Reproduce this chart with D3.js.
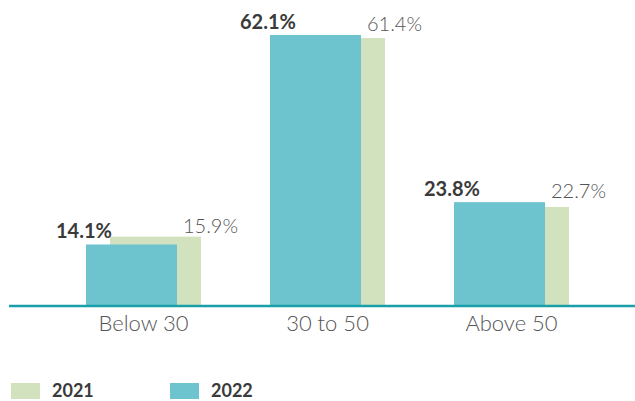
<!DOCTYPE html>
<html>
<head>
<meta charset="utf-8">
<script src="https://cdn.jsdelivr.net/npm/d3@7"></script>
<style>
  html, body { margin: 0; padding: 0; background: #fff; }
  svg { display: block; font-family: Lato, "Open Sans", sans-serif; }
</style>
</head>
<body>
<svg id="chart" width="635" height="401"></svg>
<script>
const categories = ["Below 30", "30 to 50", "Above 50"];
const values2021 = [15.9, 61.4, 22.7];
const values2022 = [14.1, 62.1, 23.8];
const seriesNames = ["2021", "2022"];
const valueLabels2021 = ["15.9%", "61.4%", "22.7%"];
const valueLabels2022 = ["14.1%", "62.1%", "23.8%"];

const colors = { "2021": "#d2e2bf", "2022": "#6ec4ce" };
const svg = d3.select("#chart");

const baseY = 306;
const x = d3.scaleBand().domain(categories).range([86, 569]).paddingInner(0.375).paddingOuter(0);
const bw = x.bandwidth();
const barW = bw * 91 / 115;
const offset = bw - barW;
const y = d3.scaleLinear().domain([0, 62.1]).range([baseY, 35]);

// 2021 bars (behind)
svg.append("g").selectAll("rect").data(categories).join("rect")
  .attr("x", (d) => x(d) + offset)
  .attr("y", (d, i) => y(values2021[i]))
  .attr("width", barW)
  .attr("height", (d, i) => baseY - y(values2021[i]))
  .attr("fill", colors["2021"]);

// 2022 bars (front)
svg.append("g").selectAll("rect").data(categories).join("rect")
  .attr("x", (d) => x(d))
  .attr("y", (d, i) => y(values2022[i]))
  .attr("width", barW)
  .attr("height", (d, i) => baseY - y(values2022[i]))
  .attr("fill", colors["2022"]);

// baseline
svg.append("line")
  .attr("x1", 9).attr("x2", 635)
  .attr("y1", baseY).attr("y2", baseY)
  .attr("stroke", "#1a9ea8").attr("stroke-width", 2.5);

// value labels 2022
svg.append("g").selectAll("text").data(categories).join("text")
  .attr("x", (d) => x(d) - 30)
  .attr("y", (d, i) => y(values2022[i]) - 6)
  .attr("font-size", 20).attr("font-weight", 700).attr("fill", "#3a3a3a")
  .text((d, i) => valueLabels2022[i]);

// value labels 2021
svg.append("g").selectAll("text").data(categories).join("text")
  .attr("x", (d) => x(d) + bw - 18)
  .attr("y", (d, i) => Math.min(y(values2021[i]), y(values2022[i])) - 4)
  .attr("font-size", 20).attr("font-weight", 300).attr("fill", "#555")
  .text((d, i) => valueLabels2021[i]);

// category axis
const axis = svg.append("g").attr("transform", `translate(0,${baseY})`)
  .call(d3.axisBottom(x).tickSize(0).tickPadding(9));
axis.select(".domain").remove();
axis.selectAll("text")
  .attr("font-family", "Lato, 'Open Sans', sans-serif")
  .attr("font-size", 22).attr("font-weight", 300).attr("fill", "#555");

// legend
const legend = svg.append("g");
const legendX = [11, 170];
seriesNames.forEach((s, i) => {
  legend.append("rect").attr("x", legendX[i]).attr("y", 383).attr("width", 29).attr("height", 16).attr("fill", colors[s]);
  legend.append("text").attr("x", legendX[i] + 41).attr("y", 397)
    .attr("font-size", 18).attr("font-weight", 700).attr("fill", "#3a3a3a").text(s);
});
</script>
</body>
</html>
